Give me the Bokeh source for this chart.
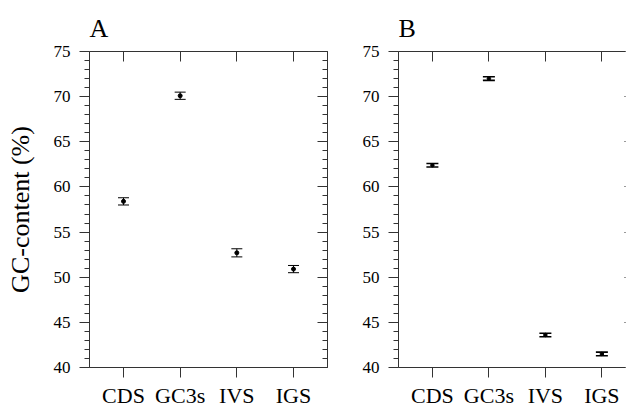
from bokeh.plotting import figure
from bokeh.models import (ColumnDataSource, Whisker, TeeHead, LinearAxis, FixedTicker,
                          SingleIntervalTicker, Range1d)
from bokeh.layouts import row
from bokeh.embed import file_html
from bokeh.resources import INLINE

# ---- data ----
categories = ["CDS", "GC3s", "IVS", "IGS"]
gc_a = [58.4, 70.1, 52.7, 50.9]
err_a = [0.4, 0.4, 0.45, 0.4]
gc_b = [62.4, 72.0, 43.6, 41.5]
err_b = [0.2, 0.2, 0.2, 0.2]
y_ticks_step = 5

FONT = "Liberation Serif"
AXC = "#333333"


def make_panel(title, values, errors, width, height, x_end, mb_left, mb_right, mb_top,
               mb_bottom, label_standoff, ylabel=None, right_tick_in=10, right_line=True,
               cap=11, lw=1, dot=4):
    xs = list(range(1, len(categories) + 1))
    src = ColumnDataSource(dict(
        x=xs, y=values,
        lower=[v - e for v, e in zip(values, errors)],
        upper=[v + e for v, e in zip(values, errors)],
    ))
    p = figure(width=width, height=height, x_range=Range1d(0.4, x_end),
               y_range=Range1d(40, 75), output_backend="svg",
               toolbar_location=None, tools="", title=title,
               x_axis_location=None, y_axis_location=None,
               min_border_left=mb_left, min_border_right=mb_right,
               min_border_top=mb_top, min_border_bottom=mb_bottom)
    p.outline_line_color = None
    p.background_fill_color = "white"
    p.border_fill_color = "white"
    p.grid.visible = False

    p.title.text_font = FONT
    p.title.text_font_size = "26px"
    p.title.text_font_style = "normal"
    p.title.text_color = "black"
    p.title.align = "left"
    p.title.offset = 0
    p.title.standoff = 18

    xt = FixedTicker(ticks=xs)
    cat_labels = {x: c for x, c in zip(xs, categories)}

    # bottom axis: ticks outward, category names
    bx = LinearAxis(ticker=xt, major_label_overrides=cat_labels,
                    major_tick_out=10, major_tick_in=0,
                    minor_tick_out=0, minor_tick_in=0,
                    major_label_standoff=label_standoff,
                    major_label_text_font=FONT,
                    major_label_text_font_size="22px",
                    major_label_text_color="black",
                    axis_line_color=AXC, major_tick_line_color=AXC)
    p.add_layout(bx, "below")

    # top axis, ticks inward, no labels
    tx = LinearAxis(ticker=xt, major_tick_out=0, major_tick_in=10,
                    minor_tick_out=0, minor_tick_in=0,
                    major_label_text_font_size="1px", major_label_standoff=0,
                    major_label_text_color=None,
                    axis_line_color=AXC, major_tick_line_color=AXC)
    p.add_layout(tx, "above")

    yt = SingleIntervalTicker(interval=y_ticks_step, num_minor_ticks=5)
    ly = LinearAxis(ticker=yt, major_tick_out=10, major_tick_in=0,
                    minor_tick_out=5, minor_tick_in=0,
                    major_label_standoff=9,
                    major_label_text_font=FONT,
                    major_label_text_font_size="17px",
                    major_label_text_color="black",
                    axis_line_color=AXC, major_tick_line_color=AXC,
                    minor_tick_line_color=AXC)
    if ylabel:
        ly.axis_label = ylabel
        ly.axis_label_text_font = FONT
        ly.axis_label_text_font_size = "26px"
        ly.axis_label_text_font_style = "normal"
        ly.axis_label_text_color = "black"
        ly.axis_label_standoff = 16
    p.add_layout(ly, "left")

    ry = LinearAxis(ticker=yt, major_tick_out=0, major_tick_in=right_tick_in,
                    minor_tick_out=0, minor_tick_in=(5 if right_line else 0),
                    major_label_text_font_size="1px", major_label_standoff=0,
                    major_label_text_color=None,
                    axis_line_color=(AXC if right_line else None),
                    major_tick_line_color=AXC,
                    minor_tick_line_color=(AXC if right_line else None))
    p.add_layout(ry, "right")

    w = Whisker(base="x", lower="lower", upper="upper", source=src,
                line_color="black", line_width=lw,
                lower_head=TeeHead(size=cap, line_color="black", line_width=lw),
                upper_head=TeeHead(size=cap, line_color="black", line_width=lw))
    p.add_layout(w)
    p.scatter("x", "y", source=src, marker="circle", size=dot,
              fill_color="black", line_color="black")
    return p


pa = make_panel("A", gc_a, err_a, width=348, height=410, x_end=4.6,
                mb_left=89, mb_right=21, mb_top=51, mb_bottom=43, label_standoff=5,
                ylabel="GC-content (%)", right_tick_in=10, right_line=True,
                cap=11, lw=1, dot=4)
pb = make_panel("B", gc_b, err_b, width=279, height=410, x_end=4.418,
                mb_left=50, mb_right=2, mb_top=51, mb_bottom=43, label_standoff=5,
                ylabel=None, right_tick_in=1, right_line=False,
                cap=12, lw=1.6, dot=3.5)

layout = row(pa, pb)
open("out.html", "w").write(file_html(layout, INLINE))
